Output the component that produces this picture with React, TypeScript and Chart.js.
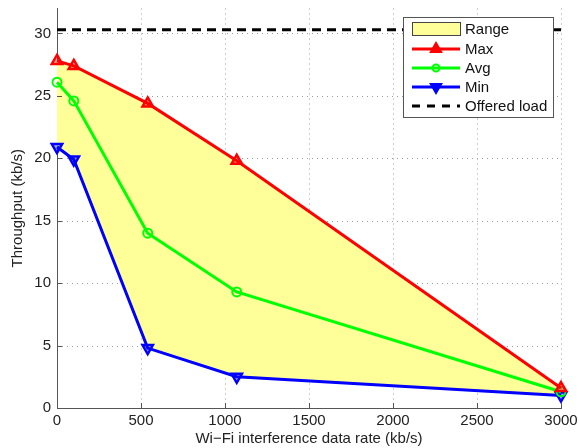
import React, { useEffect, useRef } from "react";
import { Chart, registerables } from "chart.js";

Chart.register(...registerables);

const rates = [0, 100, 540, 1070, 3000];
const maxThroughput = [27.8, 27.4, 24.4, 19.8, 1.6];
const avgThroughput = [26.1, 24.6, 14.0, 9.3, 1.3];
const minThroughput = [20.9, 19.9, 4.8, 2.5, 1.0];
const offeredLoadX = [0, 3000];
const offeredLoadY = [30.3, 30.3];
const xTicks = [0, 500, 1000, 1500, 2000, 2500, 3000];
const yTicks = [0, 5, 10, 15, 20, 25, 30];
const legendLabels = ["Range", "Max", "Avg", "Min", "Offered load"];

const FONT = "'Liberation Sans', Arial, Helvetica, sans-serif";
const FS = 15;

const toPoints = (xs: number[], ys: number[]) => xs.map((x, i) => ({ x, y: ys[i] }));

const gridPlugin = {
  id: "matlabGrid",
  beforeDraw(chart: any) {
    const { ctx, chartArea, scales } = chart;
    const xs = scales.x;
    const ys = scales.y;
    ctx.save();
    ctx.strokeStyle = "#9a9a9a";
    ctx.lineWidth = 1;
    ctx.setLineDash([1, 4]);
    xTicks.forEach((t) => {
      if (t === 0) return;
      const px = Math.round(xs.getPixelForValue(t)) + 0.5;
      ctx.beginPath();
      ctx.moveTo(px, chartArea.top);
      ctx.lineTo(px, chartArea.bottom);
      ctx.stroke();
    });
    yTicks.forEach((t) => {
      if (t === 0) return;
      const py = Math.round(ys.getPixelForValue(t)) + 0.5;
      ctx.beginPath();
      ctx.moveTo(chartArea.left, py);
      ctx.lineTo(chartArea.right, py);
      ctx.stroke();
    });
    ctx.restore();
  },
  afterDatasetsDraw(chart: any) {
    const { ctx, chartArea, scales } = chart;
    ctx.save();
    ctx.strokeStyle = "#555";
    ctx.lineWidth = 1;
    xTicks.forEach((t) => {
      const px = Math.round(scales.x.getPixelForValue(t)) + 0.5;
      ctx.beginPath();
      ctx.moveTo(px, chartArea.bottom);
      ctx.lineTo(px, chartArea.bottom - 5);
      ctx.stroke();
    });
    yTicks.forEach((t) => {
      const py = Math.round(scales.y.getPixelForValue(t)) + 0.5;
      ctx.beginPath();
      ctx.moveTo(chartArea.left, py);
      ctx.lineTo(chartArea.left + 5, py);
      ctx.stroke();
    });
    ctx.restore();
  },
};

function triangle(ctx: CanvasRenderingContext2D, cx: number, cy: number, r: number, down: boolean) {
  const s = down ? -1 : 1;
  ctx.beginPath();
  ctx.moveTo(cx, cy - s * r);
  ctx.lineTo(cx + r * 0.866, cy + s * r * 0.5);
  ctx.lineTo(cx - r * 0.866, cy + s * r * 0.5);
  ctx.closePath();
}

const legendPlugin = {
  id: "matlabLegend",
  afterDraw(chart: any) {
    const ctx: CanvasRenderingContext2D = chart.ctx;
    const bx = 403.5, by = 17.5, bw = 150, bh = 100;
    ctx.save();
    ctx.fillStyle = "#ffffff";
    ctx.fillRect(bx, by, bw, bh);
    ctx.strokeStyle = "#555";
    ctx.lineWidth = 1;
    ctx.strokeRect(bx, by, bw, bh);
    const rows = [29, 49, 68, 87, 106];
    const x0 = 412, x1 = 460, xm = 436;
    ctx.font = `${FS}px ${FONT}`;
    ctx.textBaseline = "middle";
    legendLabels.forEach((label, i) => {
      const y = rows[i];
      ctx.setLineDash([]);
      if (i === 0) {
        ctx.fillStyle = "#FFFF99";
        ctx.fillRect(x0 + 0.5, y - 6.5, x1 - x0, 13);
        ctx.strokeStyle = "#444";
        ctx.lineWidth = 1;
        ctx.strokeRect(x0 + 0.5, y - 6.5, x1 - x0, 13);
      } else {
        const color = ["", "#ff0000", "#00ff00", "#0000ff", "#000000"][i];
        ctx.strokeStyle = color;
        ctx.lineWidth = 3;
        if (i === 4) ctx.setLineDash([8, 7]);
        ctx.beginPath();
        ctx.moveTo(x0, y);
        ctx.lineTo(x1, y);
        ctx.stroke();
        ctx.setLineDash([]);
        ctx.fillStyle = color;
        ctx.lineWidth = 2;
        if (i === 1) {
          triangle(ctx, xm, y, 6, false);
          ctx.fill();
          ctx.stroke();
        } else if (i === 3) {
          triangle(ctx, xm, y, 6, true);
          ctx.fill();
          ctx.stroke();
        } else if (i === 2) {
          ctx.beginPath();
          ctx.arc(xm, y, 3.5, 0, Math.PI * 2);
          ctx.stroke();
        }
      }
      ctx.fillStyle = "#111";
      ctx.fillText(label, 465, y + 1);
    });
    ctx.restore();
  },
};

export default function App() {
  const canvasRef = useRef<HTMLCanvasElement | null>(null);

  useEffect(() => {
    document.body.style.margin = "0";
    const canvas = canvasRef.current;
    if (!canvas) return;
    const chart = new Chart(canvas, {
      type: "line",
      data: {
        datasets: [
          {
            label: "Offered load",
            data: toPoints(offeredLoadX, offeredLoadY),
            borderColor: "#000000",
            borderWidth: 3,
            borderDash: [9, 6],
            pointRadius: 0,
            fill: false,
            clip: false as any,
          },
          {
            label: "Max",
            data: toPoints(rates, maxThroughput),
            borderColor: "#ff0000",
            backgroundColor: "#ff0000",
            borderWidth: 3,
            pointStyle: "triangle",
            pointRadius: 6,
            pointBorderWidth: 2.5,
            pointBackgroundColor: "rgba(255,0,0,0.35)",
            fill: { target: 3, above: "#FFFF99", below: "#FFFF99" } as any,
            clip: false as any,
          },
          {
            label: "Avg",
            data: toPoints(rates, avgThroughput),
            borderColor: "#00ff00",
            backgroundColor: "#00ff00",
            borderWidth: 3,
            pointStyle: "circle",
            pointRadius: 4.5,
            pointBorderWidth: 2,
            pointBackgroundColor: "rgba(0,0,0,0)",
            fill: false,
            clip: false as any,
          },
          {
            label: "Min",
            data: toPoints(rates, minThroughput),
            borderColor: "#0000ff",
            backgroundColor: "#0000ff",
            borderWidth: 3,
            pointStyle: "triangle",
            pointRotation: 180,
            pointRadius: 6,
            pointBorderWidth: 2.5,
            pointBackgroundColor: "rgba(0,0,255,0.35)",
            fill: false,
            clip: false as any,
          },
        ],
      },
      options: {
        animation: false,
        responsive: false,
        devicePixelRatio: 1,
        layout: { padding: { top: 8, right: 18, bottom: 0, left: 0 } },
        plugins: {
          legend: { display: false },
          tooltip: { enabled: false },
          filler: { drawTime: "beforeDatasetsDraw" },
        } as any,
        scales: {
          x: {
            type: "linear",
            min: 0,
            max: 3000,
            afterFit: (s: any) => {
              s.height = 40;
              s.paddingLeft = 0;
              s.paddingRight = 0;
            },
            afterBuildTicks: (s: any) => {
              s.ticks = xTicks.map((v) => ({ value: v }));
            },
            grid: { display: false, drawTicks: false },
            border: { display: true, color: "#555", width: 1 },
            ticks: {
              padding: 4,
              maxRotation: 0,
              color: "#222",
              font: { family: FONT, size: FS },
              callback: (v: any) => String(v),
            },
            title: {
              display: true,
              text: "Wi\u2212Fi interference data rate (kb/s)",
              color: "#222",
              font: { family: FONT, size: FS },
              padding: { top: 0, bottom: 0 },
            },
          },
          y: {
            type: "linear",
            min: 0,
            max: 32,
            afterFit: (s: any) => {
              s.width = 57;
              s.paddingTop = 0;
              s.paddingBottom = 0;
            },
            afterBuildTicks: (s: any) => {
              s.ticks = yTicks.map((v) => ({ value: v }));
            },
            grid: { display: false, drawTicks: false },
            border: { display: true, color: "#555", width: 1 },
            ticks: {
              padding: 6,
              color: "#222",
              font: { family: FONT, size: FS },
              callback: (v: any) => String(v),
            },
            title: {
              display: true,
              text: "Throughput (kb/s)",
              color: "#222",
              font: { family: FONT, size: FS },
              padding: { top: 9, bottom: 0 },
            },
          },
        },
      },
      plugins: [gridPlugin, legendPlugin],
    });
    return () => chart.destroy();
  }, []);

  return (
    <div style={{ position: "absolute", left: 0, top: 0, width: 579, height: 448, background: "#fff" }}>
      <canvas ref={canvasRef} width={579} height={448} style={{ display: "block", width: 579, height: 448 }} />
    </div>
  );
}
